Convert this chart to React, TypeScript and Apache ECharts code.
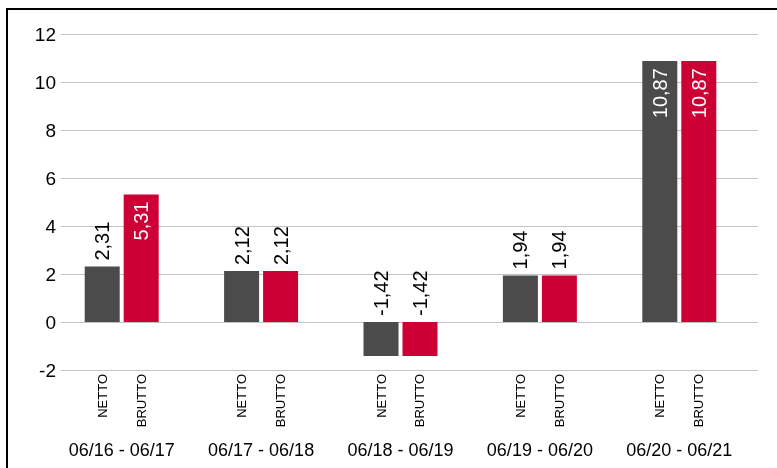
import React, { useEffect, useRef } from "react";
import * as echarts from "echarts";

const categories = ["06/16 - 06/17", "06/17 - 06/18", "06/18 - 06/19", "06/19 - 06/20", "06/20 - 06/21"];
const seriesNames = ["NETTO", "BRUTTO"];
const netto = [2.31, 2.12, -1.42, 1.94, 10.87];
const brutto = [5.31, 2.12, -1.42, 1.94, 10.87];
const yMin = -2;
const yMax = 12;
const yInterval = 2;

const FONT = "'Liberation Sans', Arial, Helvetica, sans-serif";
const DARK = "#4b4b4b";
const RED = "#cc0035";

const fmt = (v: number) => v.toFixed(2).replace(".", ",");

function makeData(values: number[]) {
  return values.map((v) => {
    const inside = v > 3;
    return {
      value: v,
      label: inside
        ? { position: "insideTop", distance: 7, align: "right", verticalAlign: "middle", color: "#fff" }
        : { position: "top", distance: 6, align: "left", verticalAlign: "middle", color: "#000" },
    };
  });
}

export default function App() {
  const ref = useRef<HTMLDivElement>(null);
  useEffect(() => {
    if (!ref.current) return;
    const chart = echarts.init(ref.current, null, { renderer: "svg" });
    const valueLabel = {
      show: true,
      rotate: 90,
      fontSize: 20,
      fontFamily: FONT,
      formatter: (p: any) => fmt(p.value),
    };
    const subLabel = (name: string) => ({
      show: true,
      position: "bottom",
      distance: 4,
      rotate: 90,
      align: "right",
      verticalAlign: "middle",
      fontSize: 13,
      fontFamily: FONT,
      color: "#000",
      formatter: () => name,
    });
    chart.setOption({
      animation: false,
      grid: [
        { left: 52, right: 28, top: 34, bottom: 98 },
        { left: 61, right: 19, top: 34, bottom: 98 },
      ],
      xAxis: [
        {
          type: "category",
          gridIndex: 0,
          data: categories,
          axisLine: { show: false },
          axisTick: { show: false },
          axisLabel: { margin: 71, fontSize: 18, fontFamily: FONT, color: "#000" },
        },
        { type: "category", gridIndex: 0, data: categories, show: false },
        { type: "category", gridIndex: 1, data: categories, show: false },
      ],
      yAxis: [
        { type: "value", gridIndex: 0, min: yMin, max: yMax, interval: yInterval, show: false },
        {
          type: "value",
          gridIndex: 1,
          min: yMin,
          max: yMax,
          interval: yInterval,
          axisLine: { show: false },
          axisTick: { show: false },
          axisLabel: { margin: 5, fontSize: 19, fontFamily: FONT, color: "#000" },
          splitLine: { lineStyle: { color: "#c2c2c2", width: 1 } },
        },
      ],
      series: [
        {
          name: seriesNames[0],
          type: "bar",
          xAxisIndex: 0,
          yAxisIndex: 0,
          barWidth: 35,
          barGap: "11.4%",
          itemStyle: { color: DARK },
          label: valueLabel,
          data: makeData(netto),
        },
        {
          name: seriesNames[1],
          type: "bar",
          xAxisIndex: 0,
          yAxisIndex: 0,
          barWidth: 35,
          barGap: "11.4%",
          itemStyle: { color: RED },
          label: valueLabel,
          data: makeData(brutto),
        },
        {
          name: seriesNames[0] + "-label",
          type: "bar",
          xAxisIndex: 1,
          yAxisIndex: 0,
          barWidth: 35,
          barGap: "11.4%",
          silent: true,
          itemStyle: { color: "rgba(0,0,0,0)" },
          label: subLabel(seriesNames[0]),
          data: categories.map(() => yMin),
        },
        {
          name: seriesNames[1] + "-label",
          type: "bar",
          xAxisIndex: 1,
          yAxisIndex: 0,
          barWidth: 35,
          barGap: "11.4%",
          silent: true,
          itemStyle: { color: "rgba(0,0,0,0)" },
          label: subLabel(seriesNames[1]),
          data: categories.map(() => yMin),
        },
      ],
    });
    return () => chart.dispose();
  }, []);
  return (
    <>
      <div
        style={{
          position: "fixed",
          left: 6,
          top: 8,
          width: 900,
          height: 700,
          borderLeft: "2px solid #000",
          borderTop: "2px solid #000",
          boxSizing: "border-box",
        }}
      />
      <div ref={ref} style={{ position: "fixed", left: 0, top: 0, width: 777, height: 468 }} />
    </>
  );
}
